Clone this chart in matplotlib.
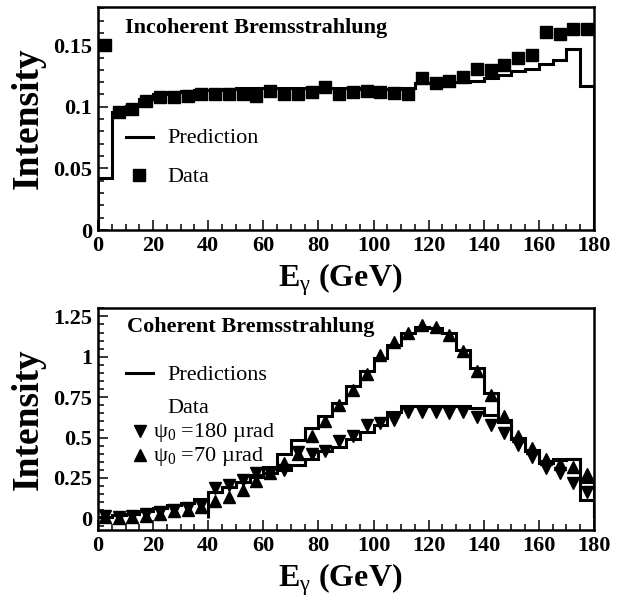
import numpy as np
import matplotlib
matplotlib.use("Agg")
from matplotlib import pyplot as plt
from matplotlib.lines import Line2D
from matplotlib.ticker import MultipleLocator

plt.rcParams['font.family'] = ['Liberation Serif', 'DejaVu Serif']
plt.rcParams['mathtext.fontset'] = 'custom'
plt.rcParams['mathtext.rm'] = 'Liberation Serif'
plt.rcParams['mathtext.it'] = 'Liberation Serif:italic'
plt.rcParams['mathtext.bf'] = 'Liberation Serif:bold'

# 5 GeV bins, 0 - 180 GeV
edges = np.arange(0, 185, 5)
centers = np.arange(2.5, 180, 5)

# Incoherent bremsstrahlung (top panel)
incoh_data = [0.150, 0.0955, 0.098, 0.105, 0.108, 0.108, 0.109, 0.110, 0.110,
              0.110, 0.110, 0.109, 0.113, 0.110, 0.110, 0.112, 0.116, 0.110,
              0.112, 0.113, 0.112, 0.111, 0.110, 0.123, 0.119, 0.121, 0.124,
              0.131, 0.130, 0.134, 0.140, 0.142, 0.161, 0.159, 0.163, 0.163]
incoh_pred = [0.042, 0.0955, 0.101, 0.106, 0.110, 0.112, 0.113, 0.114, 0.114,
              0.1145, 0.115, 0.115, 0.1155, 0.115, 0.115, 0.115, 0.115, 0.115,
              0.115, 0.1148, 0.1148, 0.1148, 0.115, 0.119, 0.1195, 0.120, 0.1205,
              0.121, 0.123, 0.126, 0.129, 0.131, 0.135, 0.138, 0.147, 0.117]

# Coherent bremsstrahlung (bottom panel)
coh70_data = [0.010, 0.000, 0.006, 0.014, 0.027, 0.043, 0.052, 0.072, 0.110,
              0.135, 0.176, 0.233, 0.280, 0.340, 0.400, 0.510, 0.600, 0.700,
              0.795, 0.895, 1.010, 1.090, 1.147, 1.198, 1.184, 1.136, 1.033,
              0.909, 0.764, 0.634, 0.510, 0.434, 0.368, 0.337, 0.320, 0.275]
coh180_data = [0.015, 0.010, 0.016, 0.024, 0.037, 0.053, 0.062, 0.082, 0.186,
               0.207, 0.240, 0.280, 0.283, 0.300, 0.410, 0.400, 0.420, 0.480,
               0.510, 0.578, 0.590, 0.610, 0.660, 0.660, 0.660, 0.655, 0.660,
               0.626, 0.578, 0.527, 0.455, 0.382, 0.310, 0.279, 0.217, 0.165]
coh70_pred = [0.010, 0.020, 0.030, 0.047, 0.062, 0.082, 0.097, 0.118, 0.165,
              0.196, 0.227, 0.270, 0.320, 0.400, 0.486, 0.558, 0.634, 0.713,
              0.820, 0.909, 0.990, 1.074, 1.147, 1.184, 1.178, 1.147, 1.043,
              0.929, 0.774, 0.599, 0.500, 0.423, 0.355, 0.370, 0.370, 0.227]
# second prediction only starts at 40 GeV
coh180_edges = np.arange(40, 185, 5)
coh180_pred = [0.165, 0.196, 0.227, 0.255, 0.280, 0.300, 0.330, 0.370, 0.420,
               0.443, 0.490, 0.537, 0.578, 0.661, 0.696, 0.696, 0.696, 0.696,
               0.696, 0.681, 0.640, 0.610, 0.490, 0.420, 0.345, 0.360, 0.370, 0.113]

W, H = 625, 597
fig = plt.figure(figsize=(W / 100, H / 100), dpi=100)


def fx(px):
    return px / W


def fy(py):
    return 1 - py / H


ax1 = fig.add_axes([fx(98), fy(230), (594 - 98) / W, (230 - 7) / H])
ax2 = fig.add_axes([fx(98), fy(530), (594 - 98) / W, (530 - 308) / H])

lw = 2.2
ax1.stairs(incoh_pred, edges, baseline=0, color='black', lw=lw, zorder=2)
ax1.plot(centers, incoh_data, 's', color='black', ms=8.5, zorder=3, clip_on=False)
ax1.set_ylim(0, 0.181)
ax1.set_yticks([0, 0.05, 0.1, 0.15], ['0', '0.05', '0.1', '0.15'])
ax1.yaxis.set_minor_locator(MultipleLocator(0.01))

ax2.stairs(coh70_pred, edges, baseline=0, color='black', lw=lw, zorder=2)
ax2.stairs(coh180_pred, coh180_edges, baseline=0, color='black', lw=lw, zorder=2)
ax2.plot(centers, coh180_data, 'v', color='black', ms=9, zorder=3)
ax2.plot(centers, coh70_data, '^', color='black', ms=9, zorder=3)
ax2.set_ylim(-0.072, 1.302)
ax2.set_yticks([0, 0.25, 0.5, 0.75, 1, 1.25], ['0', '0.25', '0.5', '0.75', '1', '1.25'])
ax2.yaxis.set_minor_locator(MultipleLocator(0.05))

for ax in (ax1, ax2):
    ax.set_xlim(0, 180)
    ax.xaxis.set_major_locator(MultipleLocator(20))
    ax.xaxis.set_minor_locator(MultipleLocator(5))
    ax.tick_params(which='both', direction='in', width=1.1, labelsize=16, pad=4)
    ax.tick_params(which='major', length=7.5)
    ax.tick_params(which='minor', length=4)
    for lbl in ax.get_xticklabels() + ax.get_yticklabels():
        lbl.set_fontweight('bold')
    for sp in ax.spines.values():
        sp.set_linewidth(1.8)

# axis titles
for ycen, ybase in ((118, 287), (419, 587)):
    fig.text(fx(28), fy(ycen), 'Intensity', rotation=90, ha='center', va='center',
             fontsize=27, fontweight='bold')
    fig.text(fx(340), fy(ybase), r'E$_{\mathrm{γ}}$ (GeV)', ha='center', va='baseline',
             fontsize=23, fontweight='bold')

# top panel labels
fig.text(fx(125), fy(33), 'Incoherent Bremsstrahlung', fontsize=16, fontweight='bold',
         va='baseline')
fig.add_artist(Line2D([fx(126), fx(153)], [fy(137), fy(137)], color='black', lw=lw,
                      transform=fig.transFigure))
fig.text(fx(167), fy(143), 'Prediction', fontsize=16, va='baseline')
fig.add_artist(Line2D([fx(139)], [fy(175)], marker='s', ms=8.5, color='black',
                      transform=fig.transFigure))
fig.text(fx(167), fy(182), 'Data', fontsize=16, va='baseline')

# bottom panel labels
fig.text(fx(127), fy(332), 'Coherent Bremsstrahlung', fontsize=16, fontweight='bold',
         va='baseline')
fig.add_artist(Line2D([fx(126), fx(153)], [fy(373), fy(373)], color='black', lw=lw,
                      transform=fig.transFigure))
fig.text(fx(167), fy(380), 'Predictions', fontsize=16, va='baseline')
fig.text(fx(167), fy(413), 'Data', fontsize=16, va='baseline')
fig.add_artist(Line2D([fx(140)], [fy(431)], marker='v', ms=9, color='black',
                      transform=fig.transFigure))
fig.text(fx(153), fy(437), r'ψ$_0$ =180 µrad', fontsize=16, va='baseline')
fig.add_artist(Line2D([fx(140)], [fy(455)], marker='^', ms=9, color='black',
                      transform=fig.transFigure))
fig.text(fx(153), fy(461), r'ψ$_0$ =70 µrad', fontsize=16, va='baseline')

fig.savefig('out.png', dpi=100)
